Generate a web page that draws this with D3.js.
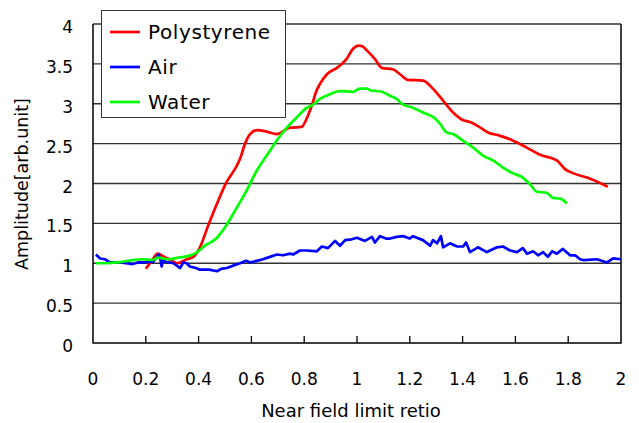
<!DOCTYPE html>
<html>
<head>
<meta charset="utf-8">
<script src="https://cdn.jsdelivr.net/npm/d3@7"></script>
<style>
  body { margin: 0; background: #fff; }
  text { font-family: "DejaVu Sans", sans-serif; fill: #000; }
</style>
</head>
<body>
<svg id="chart" width="639" height="423"></svg>
<script>
// values: [ratio, amplitude]
var polystyrene = [[0.2,0.93],[0.22,1.02],[0.245,1.12],[0.27,1.08],[0.3,1.03],[0.32,1.0],[0.355,1.05],[0.38,1.08],
  [0.405,1.2],[0.437,1.48],[0.475,1.79],[0.5,1.98],[0.557,2.31],[0.576,2.5],[0.595,2.62],[0.622,2.67],[0.658,2.65],
  [0.696,2.62],[0.746,2.7],[0.79,2.71],[0.814,2.85],[0.83,2.99],[0.845,3.15],[0.86,3.25],[0.886,3.37],[0.924,3.45],
  [0.96,3.56],[0.985,3.69],[1.005,3.73],[1.02,3.72],[1.04,3.66],[1.068,3.56],[1.094,3.45],[1.137,3.43],[1.163,3.37],
  [1.193,3.3],[1.25,3.29],[1.29,3.18],[1.326,3.04],[1.364,2.89],[1.398,2.8],[1.428,2.77],[1.458,2.72],[1.496,2.64],
  [1.54,2.6],[1.59,2.54],[1.643,2.45],[1.693,2.36],[1.757,2.29],[1.788,2.18],[1.818,2.13],[1.883,2.06],[1.95,1.96]];

var air = [[0.011,1.11],[0.027,1.06],[0.045,1.05],[0.064,1.01],[0.1,1.01],[0.125,1.0],[0.15,0.99],[0.17,1.01],[0.19,1.01],
  [0.228,1.02],[0.248,1.11],[0.255,1.05],[0.26,0.96],[0.265,1.04],[0.273,1.02],[0.305,1.0],[0.33,0.94],[0.342,1.01],
  [0.355,1.0],[0.367,0.96],[0.39,0.94],[0.405,0.92],[0.44,0.92],[0.47,0.9],[0.485,0.93],[0.507,0.94],[0.53,0.97],
  [0.557,1.0],[0.58,1.03],[0.595,1.01],[0.62,1.03],[0.644,1.05],[0.67,1.08],[0.697,1.11],[0.72,1.1],[0.746,1.12],
  [0.758,1.11],[0.784,1.16],[0.81,1.16],[0.848,1.15],[0.867,1.21],[0.89,1.19],[0.917,1.28],[0.936,1.22],[0.955,1.29],
  [0.98,1.3],[1.0,1.32],[1.03,1.28],[1.057,1.33],[1.068,1.26],[1.087,1.34],[1.11,1.31],[1.125,1.31],[1.15,1.33],
  [1.174,1.34],[1.2,1.31],[1.212,1.34],[1.25,1.29],[1.277,1.22],[1.288,1.29],[1.303,1.25],[1.318,1.34],[1.326,1.2],
  [1.352,1.25],[1.379,1.21],[1.402,1.21],[1.413,1.26],[1.428,1.14],[1.458,1.2],[1.492,1.14],[1.53,1.2],[1.553,1.21],
  [1.58,1.16],[1.606,1.14],[1.628,1.19],[1.644,1.12],[1.667,1.15],[1.686,1.1],[1.705,1.14],[1.723,1.08],[1.739,1.15],
  [1.757,1.12],[1.78,1.18],[1.807,1.1],[1.826,1.1],[1.845,1.05],[1.856,1.04],[1.909,1.05],[1.947,1.01],[1.97,1.06],[2.0,1.05]];

var water = [[0.01,1.0],[0.05,1.0],[0.095,1.01],[0.15,1.04],[0.19,1.05],[0.224,1.04],[0.246,1.07],[0.284,1.05],
  [0.322,1.07],[0.36,1.09],[0.386,1.12],[0.424,1.22],[0.47,1.32],[0.5,1.45],[0.538,1.66],[0.58,1.9],[0.62,2.16],
  [0.658,2.35],[0.696,2.54],[0.734,2.7],[0.772,2.83],[0.81,2.95],[0.83,2.98],[0.86,3.06],[0.898,3.12],[0.936,3.16],
  [0.985,3.15],[1.01,3.19],[1.037,3.19],[1.05,3.17],[1.094,3.15],[1.125,3.1],[1.15,3.06],[1.17,3.0],[1.212,2.95],
  [1.25,2.89],[1.29,2.83],[1.314,2.75],[1.34,2.64],[1.364,2.62],[1.4,2.54],[1.44,2.45],[1.477,2.35],[1.515,2.29],
  [1.553,2.2],[1.59,2.13],[1.625,2.08],[1.655,1.99],[1.68,1.9],[1.72,1.88],[1.742,1.82],[1.77,1.81],[1.795,1.75]];

var xTicks = [0, 0.2, 0.4, 0.6, 0.8, 1, 1.2, 1.4, 1.6, 1.8, 2];
var yTicks = [0, 0.5, 1, 1.5, 2, 2.5, 3, 3.5, 4];
var seriesNames = ['Polystyrene', 'Air', 'Water'];
var seriesColors = ['#ff0000', '#0000ff', '#00ff00'];

var margins = {top: 24, right: 18, bottom: 80, left: 93},
    width = 639 - margins.left - margins.right,
    height = 423 - margins.top - margins.bottom;

var svg = d3.select('#chart')
  .append('g')
  .attr('transform', 'translate(' + margins.left + ',' + margins.top + ')');

var x = d3.scaleLinear().domain([0, 2]).range([0, width]);
var y = d3.scaleLinear().domain([0, 4]).range([height, 0]);

// horizontal grid lines
svg.append('g')
  .selectAll('line')
  .data(yTicks.filter(d => d > 0))
  .enter()
  .append('line')
    .attr('x1', 0)
    .attr('x2', width)
    .attr('y1', d => y(d))
    .attr('y2', d => y(d))
    .style('stroke', '#333')
    .style('stroke-width', 1.3);

// frame: left, bottom, right
svg.append('path')
  .attr('d', 'M0,0V' + height + 'H' + width + 'V0')
  .style('fill', 'none')
  .style('stroke', '#000')
  .style('stroke-width', 1.5);

// inner ticks on x axis
svg.append('g')
  .selectAll('line')
  .data(xTicks.filter(d => d > 0 && d < 2))
  .enter()
  .append('line')
    .attr('x1', d => x(d))
    .attr('x2', d => x(d))
    .attr('y1', height)
    .attr('y2', height - 7)
    .style('stroke', '#000')
    .style('stroke-width', 1.3);

svg.append('g')
  .selectAll('text')
  .data(xTicks)
  .enter()
  .append('text')
    .attr('x', d => x(d))
    .attr('y', height + 42)
    .attr('text-anchor', 'middle')
    .style('font-size', '17px')
    .text(d => d);

svg.append('g')
  .selectAll('text')
  .data(yTicks)
  .enter()
  .append('text')
    .attr('x', -20)
    .attr('y', d => y(d) + 9)
    .attr('text-anchor', 'end')
    .style('font-size', '17px')
    .text(d => d);

svg.append('text')
  .attr('x', width / 2 - 6)
  .attr('y', height + 74)
  .attr('text-anchor', 'middle')
  .style('font-size', '18px')
  .text('Near field limit retio');

svg.append('text')
  .attr('transform', 'translate(-65,' + (184 - margins.top) + ') rotate(-90)')
  .attr('text-anchor', 'middle')
  .style('font-size', '17.5px')
  .text('Amplitude[arb.unit]');

svg.append('clipPath')
  .attr('id', 'plot-clip')
  .append('rect')
    .attr('width', width)
    .attr('height', height);

var line = d3.line()
  .x(d => x(d[0]))
  .y(d => y(d[1]));

var series = [polystyrene, air, water];
series.forEach(function (data, i) {
  svg.append('path')
    .datum(data)
    .attr('clip-path', 'url(#plot-clip)')
    .attr('d', line.curve(i == 1 ? d3.curveLinear : d3.curveMonotoneX))
    .style('fill', 'none')
    .style('stroke', seriesColors[i])
    .style('stroke-width', 2.7)
    .style('stroke-linejoin', 'round');
});

// legend
var legend = d3.select('#chart').append('g')
  .attr('transform', 'translate(101,10)');

legend.append('rect')
  .attr('x', 0.5)
  .attr('y', 0.5)
  .attr('width', 184)
  .attr('height', 107)
  .style('fill', '#fff')
  .style('stroke', '#333')
  .style('stroke-width', 1);

seriesNames.forEach(function (name, i) {
  var row = 22 + i * 35;
  legend.append('line')
    .attr('x1', 9)
    .attr('x2', 39)
    .attr('y1', row)
    .attr('y2', row)
    .style('stroke', seriesColors[i])
    .style('stroke-width', 2.7);
  legend.append('text')
    .attr('x', 47)
    .attr('y', row + 7)
    .style('font-size', '20px')
    .style('letter-spacing', '0.6px')
    .text(name);
});
</script>
</body>
</html>
